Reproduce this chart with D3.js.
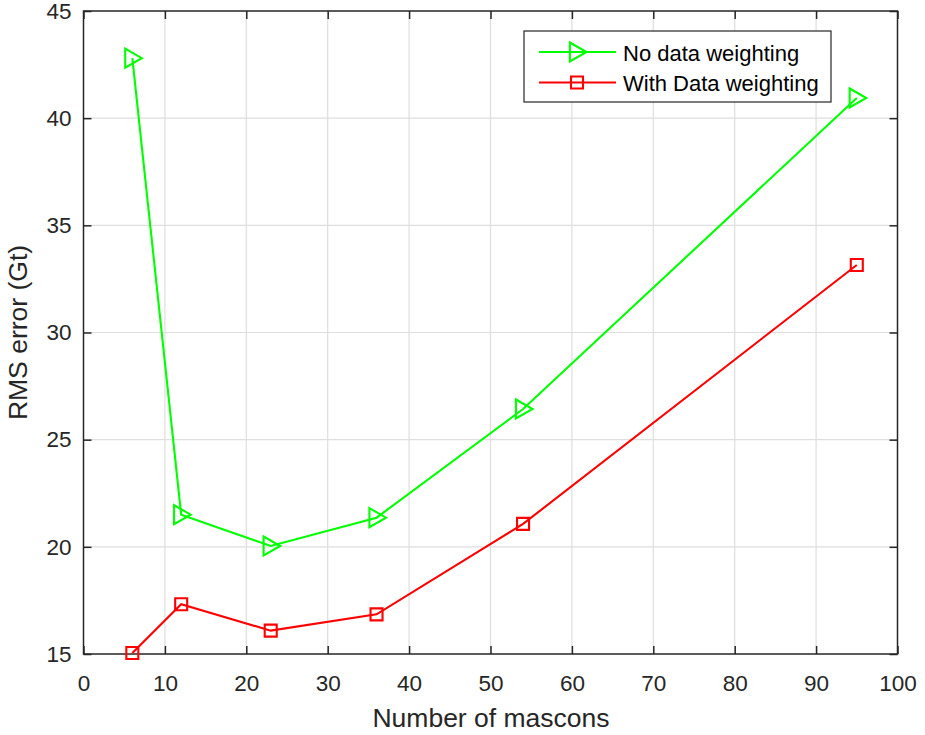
<!DOCTYPE html>
<html>
<head>
<meta charset="utf-8">
<script src="https://cdn.jsdelivr.net/npm/d3@7"></script>
<style>
  html, body { margin: 0; padding: 0; background: #fff; }
  svg text { font-family: "Liberation Sans", Arial, Helvetica, sans-serif; }
</style>
</head>
<body>
<svg id="chart" width="925" height="735"></svg>
<script>
// Number of mascons on the x axis
const mascons = [6, 12, 23, 36, 54, 95];
// RMS error (Gt) for each solution
const noWeighting = [42.8, 21.5, 20.04, 21.36, 26.43, 40.94];
const withWeighting = [15.05, 17.32, 16.09, 16.85, 21.07, 33.15];
const seriesNames = ["No data weighting", "With Data weighting"];
const xTicks = [0, 10, 20, 30, 40, 50, 60, 70, 80, 90, 100];
const yTicks = [15, 20, 25, 30, 35, 40, 45];

(function () {
  const svg = d3.select("#chart");
  const pLeft = 83.5, pRight = 897.5, pTop = 11, pBottom = 654;
  const axisColor = "#262626";
  const tickFont = 22.5;

  const x = d3.scaleLinear().domain([0, 100]).range([pLeft, pRight]);
  const y = d3.scaleLinear().domain([15, 45]).range([pBottom, pTop]);

  // grid
  const grid = svg.append("g");
  grid.selectAll("line.vx").data(xTicks.slice(1, -1)).join("line")
    .attr("x1", d => x(d)).attr("x2", d => x(d))
    .attr("y1", pTop).attr("y2", pBottom)
    .attr("stroke", "#dedede").attr("stroke-width", 1.2);
  grid.selectAll("line.hy").data(yTicks.slice(1, -1)).join("line")
    .attr("x1", pLeft).attr("x2", pRight)
    .attr("y1", d => y(d)).attr("y2", d => y(d))
    .attr("stroke", "#dedede").attr("stroke-width", 1.2);

  // axes (ticks point inward, mirrored on top/right)
  const tickLen = 8;
  const styleAxis = g => {
    g.attr("font-size", tickFont).attr("font-family", null);
    g.select(".domain").remove();
    g.selectAll(".tick line").attr("stroke", axisColor).attr("stroke-width", 1.5);
    g.selectAll(".tick text").attr("fill", axisColor);
  };
  svg.append("g").attr("transform", `translate(0,${pBottom})`)
    .call(d3.axisBottom(x).tickValues(xTicks).tickSize(-tickLen).tickPadding(21))
    .call(styleAxis);
  svg.append("g").attr("transform", `translate(0,${pTop})`)
    .call(d3.axisTop(x).tickValues(xTicks).tickSize(-tickLen).tickFormat(""))
    .call(styleAxis);
  svg.append("g").attr("transform", `translate(${pLeft},0)`)
    .call(d3.axisLeft(y).tickValues(yTicks).tickSize(-tickLen).tickPadding(12))
    .call(styleAxis);
  svg.append("g").attr("transform", `translate(${pRight},0)`)
    .call(d3.axisRight(y).tickValues(yTicks).tickSize(-tickLen).tickFormat(""))
    .call(styleAxis);

  // frame
  svg.append("rect").attr("x", pLeft).attr("y", pTop)
    .attr("width", pRight - pLeft).attr("height", pBottom - pTop)
    .attr("fill", "none").attr("stroke", axisColor).attr("stroke-width", 1.5);

  // axis labels
  svg.append("text").attr("x", 491).attr("y", 727)
    .attr("text-anchor", "middle").attr("font-size", 26.5).attr("fill", axisColor)
    .text("Number of mascons");
  svg.append("text").attr("transform", `translate(27,${(pTop + pBottom) / 2}) rotate(-90)`)
    .attr("text-anchor", "middle").attr("font-size", 26.5).attr("fill", axisColor)
    .text("RMS error (Gt)");

  // markers
  const triPath = (cx, cy, s) => `M${cx - s * 0.75},${cy - s}L${cx + s},${cy}L${cx - s * 0.75},${cy + s}Z`;
  const sqPath = (cx, cy, s) => `M${cx - s},${cy - s}h${2 * s}v${2 * s}h${-2 * s}Z`;

  const line = d3.line().x(d => x(d[0])).y(d => y(d[1]));
  const series = [
    { name: seriesNames[0], values: noWeighting, color: "#00ff00", marker: triPath, size: 9.5 },
    { name: seriesNames[1], values: withWeighting, color: "#ff0000", marker: sqPath, size: 6 }
  ];

  series.forEach(s => {
    const pts = mascons.map((m, i) => [m, s.values[i]]);
    svg.append("path").datum(pts).attr("d", line)
      .attr("fill", "none").attr("stroke", s.color).attr("stroke-width", 2.1);
    svg.append("g").selectAll("path").data(pts).join("path")
      .attr("d", d => s.marker(x(d[0]), y(d[1]), s.size))
      .attr("fill", "none").attr("stroke", s.color).attr("stroke-width", 2.1);
  });

  // legend
  const lg = svg.append("g");
  lg.append("rect").attr("x", 524).attr("y", 31).attr("width", 307).attr("height", 71)
    .attr("fill", "#fff").attr("stroke", axisColor).attr("stroke-width", 1.2);
  series.forEach((s, i) => {
    const ly = 52 + i * 30.5;
    lg.append("line").attr("x1", 539).attr("x2", 616).attr("y1", ly).attr("y2", ly)
      .attr("stroke", s.color).attr("stroke-width", 2.1);
    lg.append("path").attr("d", s.marker(577, ly, s.size))
      .attr("fill", "none").attr("stroke", s.color).attr("stroke-width", 2.1);
    lg.append("text").attr("x", 623).attr("y", ly + 8.5)
      .attr("font-size", 22).attr("fill", "#000").text(s.name);
  });
})();
</script>
</body>
</html>
